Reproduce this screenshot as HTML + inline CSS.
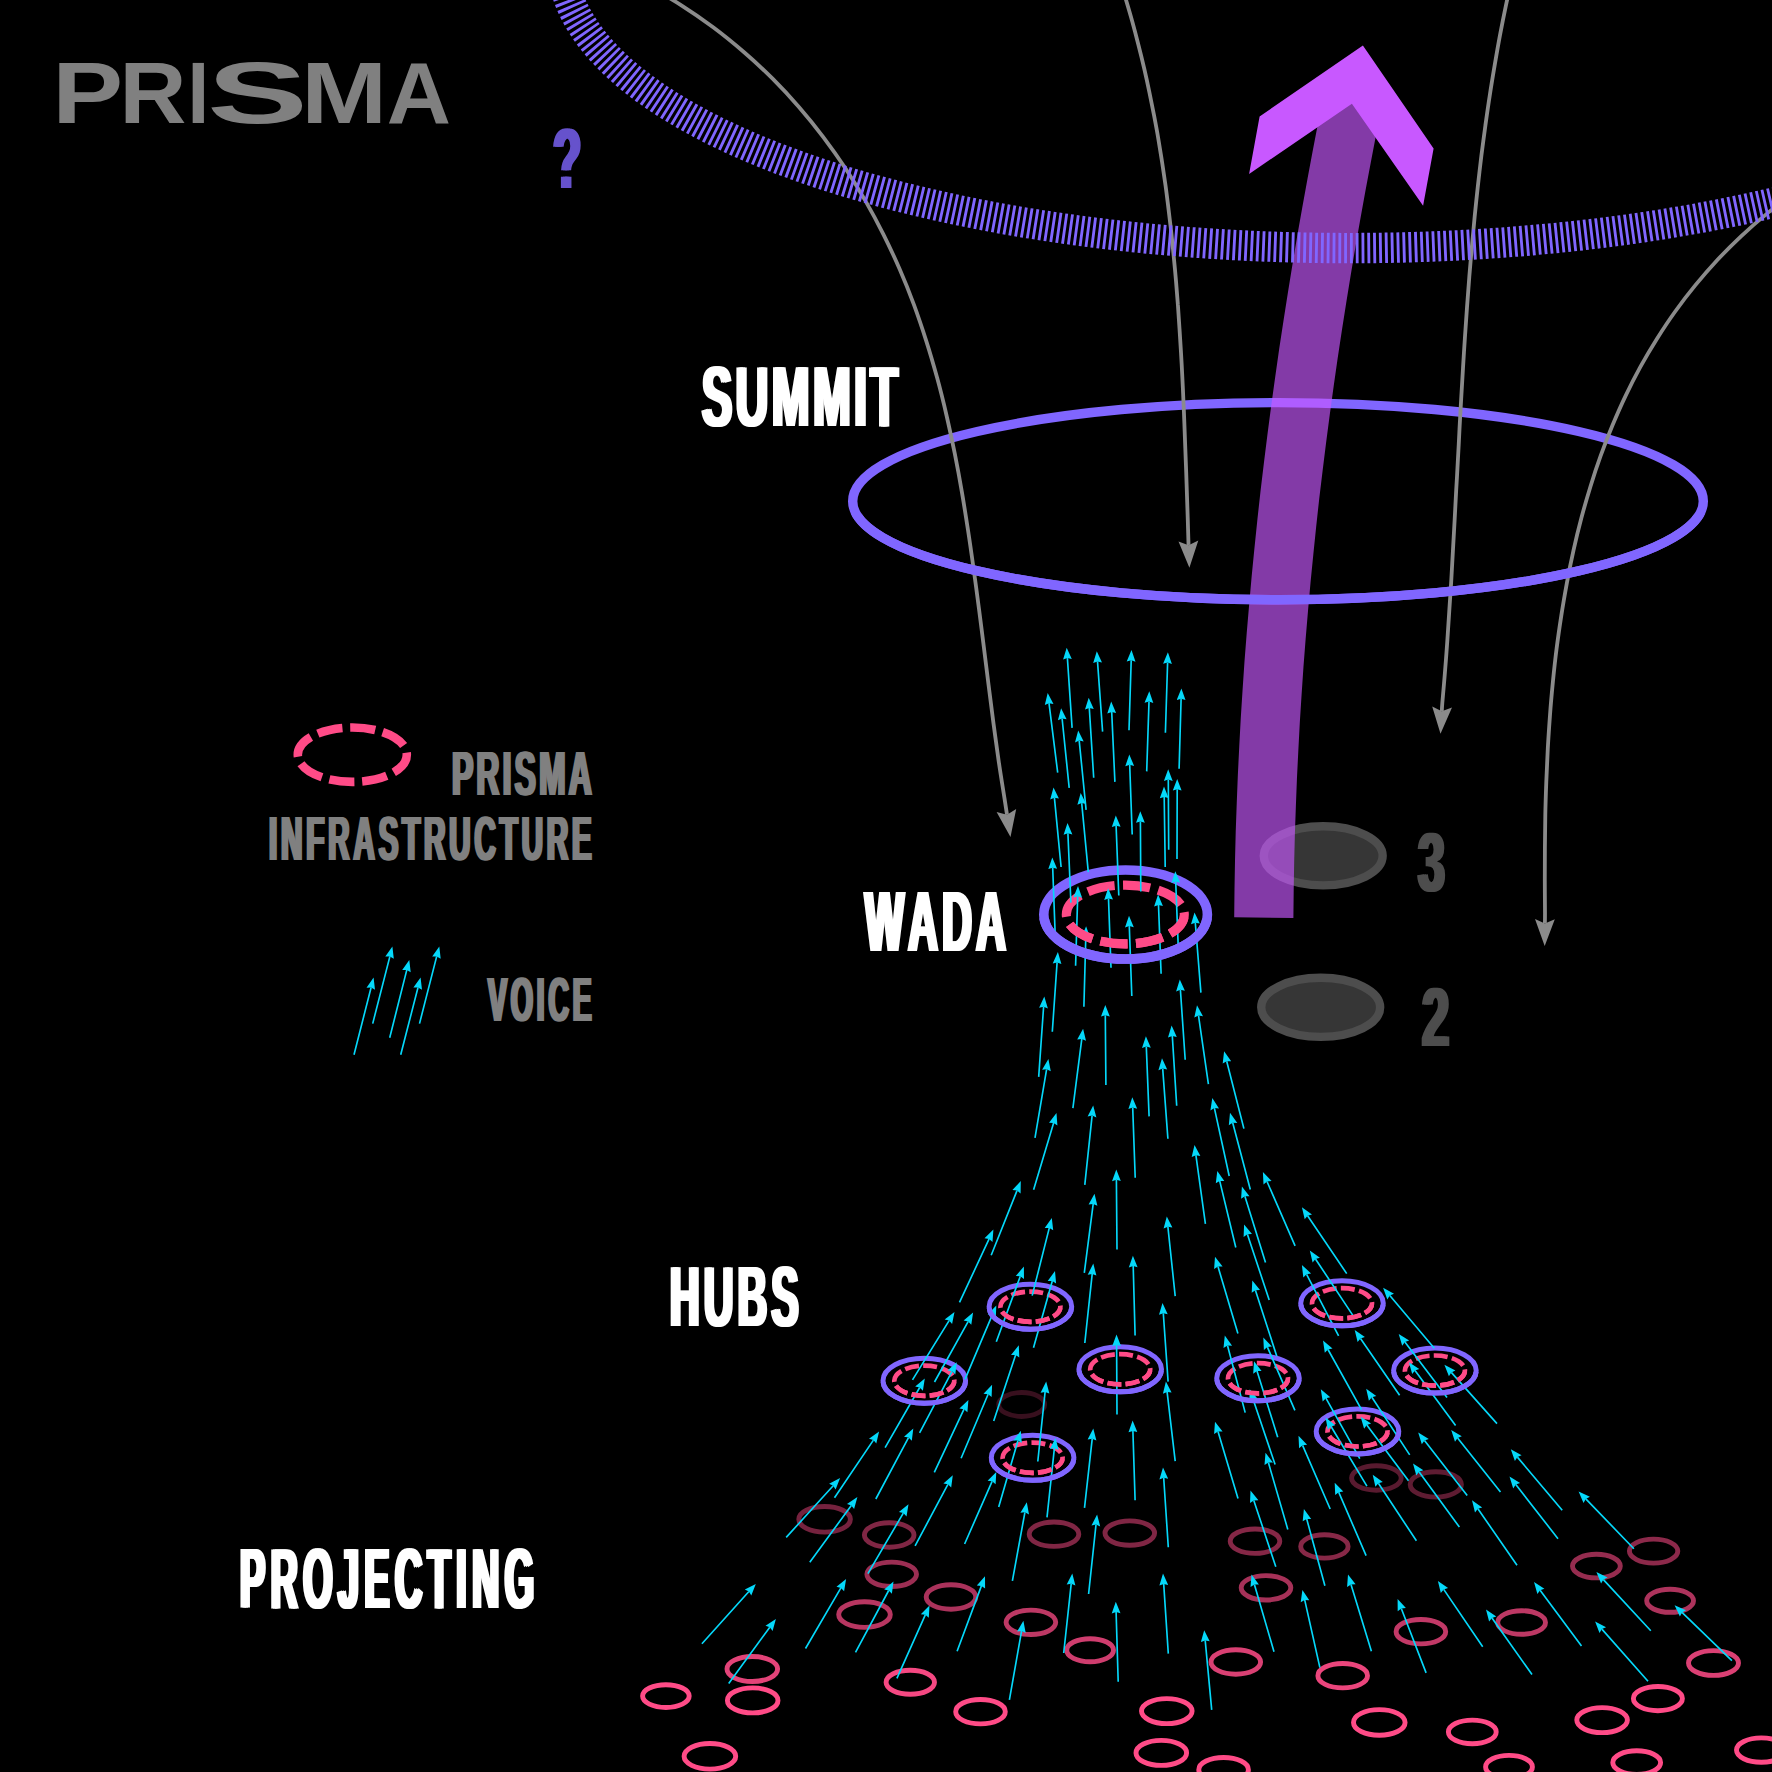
<!DOCTYPE html><html lang="en"><head><meta charset="utf-8"><title>PRISMA</title>
<style>
html,body{margin:0;padding:0;background:#000;}
body{width:1772px;height:1772px;position:relative;overflow:hidden;font-family:"Liberation Sans",sans-serif;}
svg{position:absolute;left:0;top:0;display:block}
.t{position:absolute;white-space:nowrap;font-weight:700;line-height:1;transform-origin:0 0;font-kerning:none;letter-spacing:0}
</style></head><body>
<svg width="1772" height="1772" viewBox="0 0 1772 1772">
<rect width="1772" height="1772" fill="#000"/>
<ellipse cx="1278" cy="501.2" rx="425.3" ry="98.6" fill="none" stroke="#8066ff" stroke-width="9.4"/>
<ellipse cx="1323.2" cy="855.8" rx="59.45" ry="29.55" fill="#363636" stroke="#4d4d4d" stroke-width="8.4"/>
<ellipse cx="1320.7" cy="1007.3" rx="59.45" ry="29.55" fill="#363636" stroke="#4d4d4d" stroke-width="8.4"/>
<path d="M1352.8 100L1347.2 128.2L1341.8 156.4L1336.5 184.6L1331.4 212.8L1326.4 241L1321.7 269.2L1317.1 297.4L1312.7 325.5L1308.4 353.7L1304.4 381.9L1300.5 410.1L1296.8 438.3L1293.3 466.5L1289.9 494.7L1286.8 522.9L1283.9 551.1L1281.1 579.3L1278.6 607.5L1276.2 635.7L1274 663.9L1272.1 692.1L1270.3 720.2L1268.8 748.4L1267.4 776.6L1266.3 804.8L1265.3 833L1264.6 861.2L1264.1 889.4L1263.8 917.6" fill="none" stroke="rgba(200,88,255,0.655)" stroke-width="59.2"/>
<polygon points="1362.9,45.4 1433.6,148.6 1423.1,205.7 1351.9,103.8 1249.1,173.9 1259.6,116.5" fill="#c858ff"/>
<g fill="none" stroke="#8b8b8b" stroke-width="3.8">
<path d="M645.4 -15.9C651.3 -12.5 669.2 -2.4 680.6 4.8C692 12 702.9 19.6 713.5 27.5C724.1 35.4 734.2 43.7 744.1 52.2C754 60.7 763.5 69.6 772.6 78.7C781.7 87.8 790.5 97.3 798.9 107C807.3 116.7 815.4 126.6 823.1 136.8C830.8 147 838.2 157.4 845.2 168C852.2 178.6 858.9 189.5 865.3 200.6C871.7 211.7 877.7 222.9 883.4 234.3C889.1 245.7 894.5 257.3 899.6 269C904.7 280.7 909.5 292.7 913.9 304.7C918.3 316.7 922.4 328.9 926.3 341.1C930.2 353.3 933.8 365.7 937.2 378.1C940.6 390.5 943.7 403.1 946.6 415.7C949.5 428.3 952.2 441 954.8 453.7C957.3 466.4 959.7 479.3 961.9 492.1C964.1 504.9 966.1 517.8 968.1 530.7C970.1 543.6 971.9 556.5 973.7 569.4C975.5 582.3 977.2 595.3 978.9 608.2C980.6 621.1 982.2 633.9 983.8 646.8C985.4 659.6 987 672.5 988.6 685.3C990.2 698.1 991.8 710.8 993.5 723.4C995.2 736 996.9 748.7 998.7 761.2C1000.5 773.7 1003.1 789.5 1004.5 798.4C1005.9 807.3 1006.6 812 1007 814.8"/>
<path d="M1118.4 -24.1C1119.6 -20.3 1123.4 -8.8 1125.7 -1.1C1128 6.6 1130.3 14.3 1132.4 22C1134.5 29.7 1136.5 37.5 1138.5 45.2C1140.5 53 1142.4 60.7 1144.2 68.5C1146 76.3 1147.7 84 1149.3 91.8C1150.9 99.6 1152.5 107.4 1154 115.2C1155.5 123 1157 130.8 1158.3 138.7C1159.6 146.5 1160.9 154.4 1162.1 162.3C1163.3 170.2 1164.5 178.1 1165.6 186C1166.7 193.9 1167.6 201.8 1168.6 209.7C1169.6 217.6 1170.5 225.5 1171.4 233.4C1172.3 241.3 1173 249.3 1173.8 257.2C1174.6 265.1 1175.3 273.1 1176 281C1176.7 288.9 1177.3 296.9 1177.9 304.9C1178.5 312.8 1179 320.7 1179.5 328.7C1180 336.7 1180.5 344.7 1181 352.7C1181.5 360.7 1181.9 368.6 1182.3 376.6C1182.7 384.6 1183.1 392.5 1183.4 400.5C1183.8 408.5 1184.1 416.4 1184.4 424.4C1184.7 432.4 1185 440.4 1185.3 448.4C1185.6 456.4 1185.9 464.3 1186.2 472.3C1186.5 480.3 1186.7 488.2 1187 496.2C1187.3 504.2 1187.5 512.1 1187.8 520.1C1188 528.1 1188.4 539.7 1188.5 543.9C1188.6 548.1 1188.5 545.1 1188.6 545.3"/>
<path d="M1512.5 -24.7C1511.4 -19.7 1508.1 -4.9 1506 5.1C1503.9 15.1 1501.9 25.1 1500 35.1C1498.1 45.1 1496.4 55.1 1494.7 65.1C1493 75.1 1491.3 85.2 1489.8 95.2C1488.2 105.2 1486.8 115.3 1485.4 125.4C1484 135.5 1482.7 145.5 1481.4 155.6C1480.2 165.7 1479 175.7 1477.9 185.8C1476.8 195.9 1475.7 206.1 1474.7 216.2C1473.7 226.3 1472.8 236.4 1471.9 246.5C1471 256.6 1470.1 266.8 1469.3 276.9C1468.5 287 1467.7 297.1 1467 307.3C1466.3 317.5 1465.6 327.7 1464.9 337.8C1464.2 347.9 1463.6 358.1 1463 368.2C1462.4 378.3 1461.8 388.5 1461.2 398.7C1460.6 408.9 1460 419 1459.5 429.2C1459 439.4 1458.5 449.5 1457.9 459.7C1457.4 469.9 1456.8 480 1456.2 490.2C1455.7 500.4 1455.1 510.5 1454.6 520.7C1454 530.9 1453.5 541.1 1452.9 551.2C1452.3 561.4 1451.8 571.5 1451.2 581.6C1450.6 591.8 1449.9 602 1449.2 612.1C1448.5 622.2 1447.9 632.4 1447.2 642.5C1446.5 652.6 1445.7 662.8 1444.9 672.9C1444.1 683 1442.8 696.8 1442.3 703.2C1441.8 709.6 1441.9 709.9 1441.8 711.2"/>
<path d="M1795.1 192.2C1790.4 195.8 1776 206.2 1767 213.6C1758 220.9 1749.3 228.5 1741 236.3C1732.7 244.1 1724.7 252.1 1717.1 260.3C1709.5 268.5 1702.2 276.9 1695.2 285.4C1688.2 293.9 1681.6 302.6 1675.2 311.5C1668.8 320.4 1662.8 329.5 1657 338.7C1651.2 347.9 1645.7 357.2 1640.5 366.7C1635.3 376.2 1630.4 385.8 1625.7 395.6C1621 405.4 1616.7 415.3 1612.5 425.3C1608.3 435.3 1604.4 445.5 1600.7 455.7C1597 465.9 1593.6 476.3 1590.4 486.7C1587.2 497.1 1584.1 507.7 1581.3 518.3C1578.5 528.9 1575.9 539.5 1573.5 550.3C1571.1 561 1568.9 571.9 1566.9 582.8C1564.9 593.7 1563 604.6 1561.3 615.6C1559.6 626.6 1558 637.6 1556.6 648.6C1555.2 659.6 1554 670.7 1552.9 681.8C1551.8 692.9 1550.8 704 1550 715.1C1549.2 726.2 1548.4 737.3 1547.8 748.4C1547.2 759.5 1546.7 770.6 1546.3 781.7C1545.9 792.8 1545.5 803.9 1545.3 814.9C1545.1 825.9 1545 836.9 1544.9 847.9C1544.8 858.9 1544.8 869.8 1544.8 880.6C1544.8 891.5 1545 905.8 1545 913C1545 920.2 1544.9 921.8 1544.9 923.5"/>
</g>
<g fill="#8b8b8b">
<polygon points="1010.5,837 996.6,812 1007,814.8 1016.2,809"/>
<polygon points="1189.4,567.8 1178.5,541.4 1188.6,545.3 1198.3,540.6"/>
<polygon points="1440.5,733.7 1432.2,706.4 1441.8,711.2 1452,707.5"/>
<polygon points="1544.7,946 1535,919.1 1544.9,923.5 1554.8,919.3"/>
</g>
<ellipse cx="1349" cy="-39.5" rx="787.1" ry="287.6" fill="none" stroke="#8066ff" stroke-width="30.4" stroke-dasharray="2.85 3.02"/>
<clipPath id="cs"><rect x="800" y="513.4" width="972" height="200"/></clipPath>
<g clip-path="url(#cs)"><ellipse cx="1278" cy="501.2" rx="425.3" ry="98.6" fill="none" stroke="#8066ff" stroke-width="9.4"/></g>
<g fill="none" stroke="#ff4b87" stroke-width="4.9">
<ellipse cx="824.6" cy="1519.3" rx="25.8" ry="12.8" opacity="0.46"/>
<ellipse cx="889.2" cy="1535" rx="24.8" ry="12.2" opacity="0.50"/>
<ellipse cx="891.7" cy="1574.3" rx="24.8" ry="12.2" opacity="0.61"/>
<ellipse cx="864.5" cy="1614.6" rx="25.8" ry="12.8" opacity="0.72"/>
<ellipse cx="951" cy="1597" rx="24.8" ry="12.2" opacity="0.67"/>
<ellipse cx="752.3" cy="1669" rx="25.3" ry="12.5" opacity="0.89"/>
<ellipse cx="665.9" cy="1696.1" rx="23.3" ry="11.4"/>
<ellipse cx="752.7" cy="1700.4" rx="25.3" ry="12.5"/>
<ellipse cx="910.3" cy="1682.2" rx="24.2" ry="12" opacity="0.96"/>
<ellipse cx="709.9" cy="1756.3" rx="25.8" ry="12.8"/>
<ellipse cx="1054" cy="1534.2" rx="24.8" ry="12.2" opacity="0.50"/>
<ellipse cx="1129.8" cy="1533.1" rx="24.8" ry="12.2" opacity="0.50"/>
<ellipse cx="1255" cy="1541.2" rx="24.8" ry="12.2" opacity="0.52"/>
<ellipse cx="1030.9" cy="1622.3" rx="24.8" ry="12.2" opacity="0.74"/>
<ellipse cx="1266" cy="1587.8" rx="24.8" ry="12.2" opacity="0.65"/>
<ellipse cx="1090.1" cy="1650.2" rx="23.4" ry="11.5" opacity="0.81"/>
<ellipse cx="1235.8" cy="1662" rx="24.8" ry="12.2" opacity="0.85"/>
<ellipse cx="980.5" cy="1711.7" rx="24.8" ry="12.2"/>
<ellipse cx="1166.8" cy="1711.1" rx="25.3" ry="12.5"/>
<ellipse cx="1161.3" cy="1752.9" rx="25.3" ry="12.5"/>
<ellipse cx="1223.6" cy="1769.7" rx="24.8" ry="12.2"/>
<ellipse cx="1376.4" cy="1478" rx="24.8" ry="12.2" opacity="0.35"/>
<ellipse cx="1435.8" cy="1484.4" rx="25.6" ry="12.7" opacity="0.37"/>
<ellipse cx="1324.4" cy="1546.4" rx="23.7" ry="11.7" opacity="0.53"/>
<ellipse cx="1420.9" cy="1631.7" rx="24.8" ry="12.2" opacity="0.76"/>
<ellipse cx="1521.6" cy="1622.5" rx="23.9" ry="11.8" opacity="0.74"/>
<ellipse cx="1342.7" cy="1675.7" rx="24.8" ry="12.2" opacity="0.92"/>
<ellipse cx="1379.3" cy="1722.4" rx="25.8" ry="12.8"/>
<ellipse cx="1472.3" cy="1731.9" rx="23.9" ry="11.8"/>
<ellipse cx="1509" cy="1766.9" rx="23.4" ry="11.5"/>
<ellipse cx="1653.6" cy="1551.1" rx="24.2" ry="12" opacity="0.55"/>
<ellipse cx="1596.4" cy="1566.1" rx="23.9" ry="11.8" opacity="0.59"/>
<ellipse cx="1670.1" cy="1600.8" rx="23.4" ry="11.5" opacity="0.68"/>
<ellipse cx="1713.5" cy="1663" rx="25" ry="12.4" opacity="0.86"/>
<ellipse cx="1657.9" cy="1698.6" rx="24.5" ry="12.1"/>
<ellipse cx="1602.1" cy="1720.1" rx="25.3" ry="12.5"/>
<ellipse cx="1761.3" cy="1750.1" rx="24.8" ry="12.2"/>
<ellipse cx="1636.7" cy="1762.6" rx="23.9" ry="11.8"/>
<ellipse cx="1021.7" cy="1404.5" rx="23" ry="12" stroke-width="4.8" opacity="0.22"/>
</g>
<ellipse cx="1030.4" cy="1306.7" rx="41.3" ry="22.5" fill="none" stroke="#8066ff" stroke-width="5"/><ellipse cx="1030.4" cy="1306.7" rx="30" ry="15.1" fill="none" stroke="#ff4b87" stroke-width="4.7" pathLength="8" stroke-dasharray="0.765 0.235" stroke-dashoffset="0.065"/>
<ellipse cx="924.3" cy="1380.7" rx="41.3" ry="22.5" fill="none" stroke="#8066ff" stroke-width="5"/><ellipse cx="924.3" cy="1380.7" rx="30" ry="15.1" fill="none" stroke="#ff4b87" stroke-width="4.7" pathLength="8" stroke-dasharray="0.765 0.235" stroke-dashoffset="0.065"/>
<ellipse cx="1120.2" cy="1369.3" rx="41.3" ry="22.5" fill="none" stroke="#8066ff" stroke-width="5"/><ellipse cx="1120.2" cy="1369.3" rx="30" ry="15.1" fill="none" stroke="#ff4b87" stroke-width="4.7" pathLength="8" stroke-dasharray="0.765 0.235" stroke-dashoffset="0.065"/>
<ellipse cx="1032.6" cy="1457.8" rx="41.3" ry="22.5" fill="none" stroke="#8066ff" stroke-width="5"/><ellipse cx="1032.6" cy="1457.8" rx="30" ry="15.1" fill="none" stroke="#ff4b87" stroke-width="4.7" pathLength="8" stroke-dasharray="0.765 0.235" stroke-dashoffset="0.065"/>
<ellipse cx="1342" cy="1303.3" rx="41.3" ry="22.5" fill="none" stroke="#8066ff" stroke-width="5"/><ellipse cx="1342" cy="1303.3" rx="30" ry="15.1" fill="none" stroke="#ff4b87" stroke-width="4.7" pathLength="8" stroke-dasharray="0.765 0.235" stroke-dashoffset="0.065"/>
<ellipse cx="1258" cy="1378.3" rx="41.3" ry="22.5" fill="none" stroke="#8066ff" stroke-width="5"/><ellipse cx="1258" cy="1378.3" rx="30" ry="15.1" fill="none" stroke="#ff4b87" stroke-width="4.7" pathLength="8" stroke-dasharray="0.765 0.235" stroke-dashoffset="0.065"/>
<ellipse cx="1434.9" cy="1370.6" rx="41.3" ry="22.5" fill="none" stroke="#8066ff" stroke-width="5"/><ellipse cx="1434.9" cy="1370.6" rx="30" ry="15.1" fill="none" stroke="#ff4b87" stroke-width="4.7" pathLength="8" stroke-dasharray="0.765 0.235" stroke-dashoffset="0.065"/>
<ellipse cx="1357.5" cy="1431.4" rx="41.3" ry="22.5" fill="none" stroke="#8066ff" stroke-width="5"/><ellipse cx="1357.5" cy="1431.4" rx="30" ry="15.1" fill="none" stroke="#ff4b87" stroke-width="4.7" pathLength="8" stroke-dasharray="0.765 0.235" stroke-dashoffset="0.065"/>
<ellipse cx="1125.6" cy="914.5" rx="81.8" ry="44.5" fill="none" stroke="#8066ff" stroke-width="9.6"/><ellipse cx="1125.3" cy="914.5" rx="59" ry="29.4" fill="none" stroke="#ff4b87" stroke-width="9.1" pathLength="8" stroke-dasharray="0.765 0.235" stroke-dashoffset="0.065"/>
<path d="M1072.1 727.9L1067.4 658.1M1102.6 731.6L1097.5 661.4M1129 730.2L1131.2 660.3M1165.4 732.8L1167.6 662.6M1057.7 772.7L1049 703.2M1069.2 787.8L1062.1 718.5M1093.7 777.8L1089.3 708M1114.9 781.9L1111.7 711.9M1146.7 771.4L1149 701.6M1179.1 768.8L1181.1 698.7M1086.1 809.8L1079.2 740.6M1132.2 834.5L1129.7 764.7M1168.7 849.8L1168.3 779.6M1177 858.9L1177.2 789.3M1165.2 867L1164.2 796.9M1061.1 867L1054.4 797.7M1088.3 872.1L1081.7 803.1M1070.9 902.6L1067.9 833.3M1118.8 895.5L1116.1 825.7M1140.8 891.6L1140.4 821.5M1055.3 937.6L1052.7 867.7M1178.4 950.8L1175.7 881.5M1075.6 965.7L1077.7 896.3M1111 967.8L1108.5 898.5M1161.1 973.7L1158.5 904.9M1131.8 996L1129.3 926.1M1200.9 992.6L1195.3 922.7M1083.9 1006.7L1085.8 936.6M1052.3 1031.7L1057.1 962.4M1038.7 1076.9L1043.6 1006.8M1105.9 1085L1105.3 1015.3M1185.2 1059.7L1180.4 989.8M1208.4 1084.2L1198.5 1015.5M1072.9 1108.2L1081.8 1038.9M1176.7 1105.7L1172.3 1035.9M1149.1 1116.4L1146.3 1046.6M1035 1137.9L1046.6 1069.3M1167.9 1138.7L1162.7 1068.6M1243.9 1128.6L1226.7 1061.2M1135.2 1177.7L1132.7 1107.5M1084.8 1184.9L1092.1 1115.6M1033.6 1189.8L1053.6 1122.9M1229.2 1176L1214.4 1108.1M1250.3 1189.5L1232.7 1122.8M991.2 1255.2L1017 1190.6M959.5 1302.4L989.1 1238.9M1032.2 1295.6L1049.3 1227.9M1084.3 1272.8L1093.2 1203.9M1135.1 1335.6L1133.2 1266.1M996.3 1341.8L1020.3 1276.2M1033.5 1347.8L1052.3 1281M1084.8 1343L1092.2 1273.9M912.5 1379.9L949.1 1320.6M934.5 1382L968.1 1321.6M965 1379.4L992.3 1314.9M1117 1414.6L1116.6 1344.9M993.7 1421.1L1015.6 1355M919.6 1432.9L952 1371.3M885.1 1447.7L919.7 1387.5M1037.8 1461.5L1045.1 1391.9M961.1 1458.3L988.1 1394.2M934.3 1472.4L964 1409.2M1295.1 1245.8L1267 1181.5M1346.7 1273.6L1307.6 1215.8M1175.2 1296.1L1167.9 1226.8M1269.2 1300L1247.4 1234.3M1352.7 1315.1L1315.5 1259M1338.6 1335.9L1306.6 1274.3M1237.9 1333.4L1218 1266.6M1276.8 1356.2L1255.4 1290.2M1434.3 1348.3L1389.8 1295.5M1168.1 1381.6L1163.3 1313.2M1245.2 1412.6L1227.5 1345.5M1294.9 1410.4L1267.4 1347.1M1361.5 1409.6L1328 1349.5M1399.6 1395.2L1360.5 1338.5M1447 1397.4L1404.9 1342.1M1277.7 1437.2L1257 1371.1M1455.6 1425.6L1415 1370.5M1175.2 1461.2L1167.1 1391.9M1359.8 1458.7L1325.9 1398.2M1409.7 1454.9L1371.9 1397.3M1275.1 1464.6L1253 1399M1366.9 1486.1L1330.9 1426.3M1408.5 1480.8L1366.8 1425.1M786.2 1537.4L833.2 1485.7M809.8 1562.2L851.3 1505.5M867.9 1573.6L903.3 1513.1M701.9 1643.8L748.9 1591.5M805.5 1648.5L840.9 1587.9M855.5 1652.3L888.7 1590.5M728.7 1683.6L769.8 1627.2M896.9 1678.3L925.3 1614.8M915.1 1545.9L947.9 1484.3M964.6 1544L992.1 1481.3M1012.4 1580.9L1024.9 1512.3M1088.6 1594L1096 1524.6M1168.3 1547.2L1163.7 1477.8M957.1 1651.2L981.4 1585.9M1063.7 1653L1071.2 1583.8M1168.3 1653.6L1163.7 1583.9M1118.2 1681.7L1116.1 1612M1009.4 1699.9L1021.6 1630.9M1211.7 1709.8L1205.2 1640.4M1287.8 1529.4L1268.4 1462.6M1275.8 1566.8L1253.8 1500.4M1366.1 1555.6L1338.7 1492.2M1416.4 1540.8L1378.4 1483.3M1459.4 1527.1L1419 1471.7M1324.9 1585.8L1306.7 1518.9M1517 1565.2L1477.9 1508.8M1274 1651.7L1254.4 1584.4M1319.9 1667.6L1304.7 1599.9M1371.4 1651.2L1351 1584.4M1426.1 1672.9L1401.3 1608.5M1482.7 1646.7L1443.7 1589.4M1532 1674.6L1492 1618M1633.9 1548.7L1585.8 1498.9M1650.8 1630.7L1603.4 1579.6M1648 1681.3L1601.9 1629.1M1731.9 1660.7L1682 1612.4M1205.4 1223.8L1195.9 1155.2M1117 1249.6L1116.4 1179.8M1235.8 1247.5L1219.7 1180.9M1265.5 1262.6L1244.9 1196.3M834.5 1497.7L873.4 1440.1M875.8 1499L908.5 1437.6M998.7 1507.1L1018 1440.6M1047 1517.4L1054.4 1448.2M1084.5 1507.8L1092.2 1438.8M1135.1 1500.3L1132.9 1430.9M1497 1423.6L1451.3 1372.4M1238 1498.5L1218 1431.6M1330.2 1509L1302.6 1445.3M1467.2 1495.5L1424.5 1440.5M1500.5 1492.1L1457.6 1437.9M1562.2 1510.3L1517.4 1457.1M1558 1538.7L1515.8 1484.6M1581.5 1646.1L1540.1 1590.3" fill="none" stroke="#05d8fa" stroke-width="1.65"/><path d="M1066.7 647.8L1071.8 659.1L1067.4 658.1L1063.1 659.6ZM1096.8 651.2L1102 662.4L1097.5 661.4L1093.2 663ZM1131.5 650L1135.5 661.7L1131.2 660.3L1126.7 661.4ZM1167.9 652.3L1171.9 664.1L1167.6 662.6L1163.1 663.8ZM1047.7 693L1053.5 703.9L1049 703.2L1044.8 705ZM1061.1 708.2L1066.6 719.3L1062.1 718.5L1057.9 720.2ZM1088.7 697.7L1093.8 709L1089.3 708L1085 709.6ZM1111.2 701.6L1116.1 713L1111.7 711.9L1107.3 713.4ZM1149.3 691.3L1153.3 703L1149 701.6L1144.5 702.7ZM1181.4 688.4L1185.5 700.1L1181.1 698.7L1176.7 699.9ZM1078.2 730.4L1083.7 741.5L1079.2 740.6L1075 742.4ZM1129.3 754.4L1134.1 765.9L1129.7 764.7L1125.3 766.2ZM1168.2 769.3L1172.7 780.9L1168.3 779.6L1163.9 781ZM1177.2 779L1181.6 790.6L1177.2 789.3L1172.8 790.6ZM1164 786.6L1168.6 798.1L1164.2 796.9L1159.8 798.3ZM1053.5 787.4L1058.9 798.6L1054.4 797.7L1050.2 799.4ZM1080.7 792.9L1086.2 804L1081.7 803.1L1077.4 804.8ZM1067.5 823L1072.4 834.4L1067.9 833.3L1063.6 834.8ZM1115.8 815.4L1120.6 826.8L1116.1 825.7L1111.8 827.1ZM1140.3 811.2L1144.8 822.7L1140.4 821.5L1136 822.8ZM1052.3 857.4L1057.1 868.8L1052.7 867.7L1048.3 869.1ZM1175.3 871.3L1180.2 882.7L1175.7 881.5L1171.4 883ZM1078 886L1082.1 897.7L1077.7 896.3L1073.3 897.4ZM1108.1 888.2L1113 899.6L1108.5 898.5L1104.2 899.9ZM1158.1 894.6L1162.9 906L1158.5 904.9L1154.1 906.4ZM1129 915.8L1133.8 927.2L1129.3 926.1L1125 927.5ZM1194.5 912.4L1199.8 923.6L1195.3 922.7L1191 924.3ZM1086.1 926.3L1090.2 938L1085.8 936.6L1081.4 937.8ZM1057.9 952.1L1061.4 964L1057.1 962.4L1052.7 963.4ZM1044.3 996.5L1047.9 1008.4L1043.6 1006.8L1039.1 1007.8ZM1105.3 1005L1109.8 1016.5L1105.3 1015.3L1101 1016.6ZM1179.8 979.6L1184.9 990.8L1180.4 989.8L1176.1 991.4ZM1197 1005.3L1203 1016.2L1198.5 1015.5L1194.3 1017.4ZM1083.1 1028.7L1086 1040.7L1081.8 1038.9L1077.2 1039.6ZM1171.6 1025.6L1176.8 1036.9L1172.3 1035.9L1168 1037.5ZM1145.9 1036.3L1150.8 1047.7L1146.3 1046.6L1142 1048.1ZM1048.4 1059.1L1050.8 1071.3L1046.6 1069.3L1042.1 1069.8ZM1162 1058.3L1167.2 1069.5L1162.7 1068.6L1158.4 1070.2ZM1224.1 1051.2L1231.2 1061.3L1226.7 1061.2L1222.7 1063.5ZM1132.3 1097.2L1137.2 1108.7L1132.7 1107.5L1128.4 1109ZM1093.2 1105.4L1096.4 1117.4L1092.1 1115.6L1087.6 1116.4ZM1056.5 1113L1057.4 1125.4L1053.6 1122.9L1049 1122.8ZM1212.3 1098.1L1219 1108.5L1214.4 1108.1L1210.4 1110.4ZM1230 1112.8L1237.3 1122.9L1232.7 1122.8L1228.8 1125.2ZM1020.8 1181L1020.6 1193.4L1017 1190.6L1012.4 1190.1ZM993.4 1229.6L992.5 1242L989.1 1238.9L984.5 1238.3ZM1051.8 1217.9L1053.2 1230.2L1049.3 1227.9L1044.7 1228.1ZM1094.5 1193.7L1097.4 1205.8L1093.2 1203.9L1088.6 1204.6ZM1132.9 1255.8L1137.6 1267.3L1133.2 1266.1L1128.8 1267.6ZM1023.9 1266.5L1024 1278.9L1020.3 1276.2L1015.8 1275.9ZM1055 1271.1L1056.1 1283.4L1052.3 1281L1047.7 1281.1ZM1093.3 1263.6L1096.4 1275.6L1092.2 1273.9L1087.7 1274.7ZM954.5 1311.9L952.1 1324.1L949.1 1320.6L944.6 1319.4ZM973.1 1312.6L971.3 1324.8L968.1 1321.6L963.6 1320.6ZM996.3 1305.4L995.8 1317.8L992.3 1314.9L987.7 1314.4ZM1116.5 1334.6L1121 1346.1L1116.6 1344.9L1112.2 1346.2ZM1018.8 1345.2L1019.3 1357.6L1015.6 1355L1011 1354.9ZM956.8 1362.2L955.3 1374.5L952 1371.3L947.5 1370.4ZM924.8 1378.6L922.9 1390.8L919.7 1387.5L915.2 1386.4ZM1046.2 1381.6L1049.4 1393.6L1045.1 1391.9L1040.6 1392.7ZM992.1 1384.7L991.6 1397.1L988.1 1394.2L983.5 1393.7ZM968.4 1399.9L967.4 1412.3L964 1409.2L959.4 1408.5ZM1262.9 1172L1271.6 1180.9L1267 1181.5L1263.5 1184.4ZM1301.9 1207.2L1312 1214.4L1307.6 1215.8L1304.7 1219.3ZM1166.8 1216.6L1172.4 1227.6L1167.9 1226.8L1163.6 1228.6ZM1244.1 1224.5L1252 1234.1L1247.4 1234.3L1243.6 1236.9ZM1309.8 1250.4L1319.9 1257.7L1315.5 1259L1312.6 1262.5ZM1301.9 1265.1L1311.1 1273.4L1306.6 1274.3L1303.3 1277.5ZM1215 1256.7L1222.6 1266.5L1218 1266.6L1214.1 1269.1ZM1252.3 1280.4L1260 1290.1L1255.4 1290.2L1251.7 1292.8ZM1383.1 1287.7L1394 1293.7L1389.8 1295.5L1387.3 1299.4ZM1162.5 1302.9L1167.7 1314.2L1163.3 1313.2L1159 1314.8ZM1224.8 1335.6L1232.1 1345.7L1227.5 1345.5L1223.5 1347.9ZM1263.3 1337.6L1271.9 1346.5L1267.4 1347.1L1263.9 1350ZM1323 1340.5L1332.5 1348.5L1328 1349.5L1324.8 1352.8ZM1354.7 1330L1364.9 1337L1360.5 1338.5L1357.6 1342ZM1398.7 1333.9L1409.2 1340.5L1404.9 1342.1L1402.2 1345.8ZM1254 1361.3L1261.6 1371.1L1257 1371.1L1253.2 1373.7ZM1408.9 1362.2L1419.3 1368.9L1415 1370.5L1412.2 1374.1ZM1165.9 1381.6L1171.6 1392.6L1167.1 1391.9L1162.9 1393.7ZM1320.8 1389.2L1330.3 1397.2L1325.9 1398.2L1322.7 1401.5ZM1366.2 1388.7L1376.3 1396L1371.9 1397.3L1368.9 1400.8ZM1249.7 1389.2L1257.6 1398.8L1253 1399L1249.3 1401.6ZM1325.6 1417.5L1335.3 1425.2L1330.9 1426.3L1327.8 1429.7ZM1360.6 1416.8L1371.1 1423.5L1366.8 1425.1L1364.1 1428.8ZM840.1 1478L835.6 1489.6L833.2 1485.7L829.1 1483.7ZM857.4 1497.1L854.1 1509.1L851.3 1505.5L847 1503.9ZM908.5 1504.3L906.5 1516.5L903.3 1513.1L898.9 1512ZM755.8 1583.9L751.3 1595.5L748.9 1591.5L744.8 1589.6ZM846.1 1579L844.1 1591.3L840.9 1587.9L836.5 1586.8ZM893.5 1581.5L891.9 1593.8L888.7 1590.5L884.2 1589.6ZM775.9 1618.9L772.6 1630.9L769.8 1627.2L765.5 1625.7ZM929.5 1605.4L928.8 1617.8L925.3 1614.8L920.8 1614.2ZM952.8 1475.2L951.2 1487.5L947.9 1484.3L943.4 1483.4ZM996.3 1471.9L995.6 1484.2L992.1 1481.3L987.6 1480.7ZM1026.8 1502.2L1029 1514.4L1024.9 1512.3L1020.4 1512.8ZM1097.1 1514.4L1100.2 1526.4L1096 1524.6L1091.5 1525.5ZM1163 1467.5L1168.2 1478.8L1163.7 1477.8L1159.4 1479.4ZM985 1576.2L985.1 1588.6L981.4 1585.9L976.8 1585.5ZM1072.3 1573.6L1075.4 1585.6L1071.2 1583.8L1066.7 1584.6ZM1163 1573.6L1168.2 1584.9L1163.7 1583.9L1159.4 1585.4ZM1115.8 1601.7L1120.5 1613.2L1116.1 1612L1111.7 1613.4ZM1023.4 1620.8L1025.7 1633L1021.6 1630.9L1017.1 1631.5ZM1204.2 1630.2L1209.7 1641.3L1205.2 1640.4L1200.9 1642.1ZM1265.5 1452.7L1273 1462.6L1268.4 1462.6L1264.5 1465.1ZM1250.5 1490.6L1258.4 1500.2L1253.8 1500.4L1250 1503ZM1334.7 1482.7L1343.3 1491.6L1338.7 1492.2L1335.2 1495.1ZM1372.7 1474.7L1382.8 1481.9L1378.4 1483.3L1375.4 1486.8ZM1413 1463.4L1423.4 1470.2L1419 1471.7L1416.3 1475.4ZM1303.9 1508.9L1311.2 1519L1306.7 1518.9L1302.7 1521.3ZM1472 1500.3L1482.2 1507.4L1477.9 1508.8L1475 1512.4ZM1251.5 1574.5L1258.9 1584.4L1254.4 1584.4L1250.5 1586.9ZM1302.4 1589.9L1309.3 1600.2L1304.7 1599.9L1300.7 1602.2ZM1348 1574.5L1355.6 1584.3L1351 1584.4L1347.1 1586.9ZM1397.6 1598.9L1405.9 1608.1L1401.3 1608.5L1397.7 1611.3ZM1437.9 1580.9L1448.1 1588L1443.7 1589.4L1440.8 1593ZM1486 1609.6L1496.3 1616.5L1492 1618L1489.1 1621.6ZM1578.6 1491.5L1589.9 1496.8L1585.8 1498.9L1583.5 1502.9ZM1596.4 1572.1L1607.6 1577.6L1603.4 1579.6L1601.1 1583.6ZM1595.1 1621.4L1606.1 1627.2L1601.9 1629.1L1599.5 1633ZM1674.6 1605.3L1686 1610.2L1682 1612.4L1679.9 1616.5ZM1194.5 1145L1200.4 1155.9L1195.9 1155.2L1191.7 1157.1ZM1116.3 1169.5L1120.8 1181.1L1116.4 1179.8L1112 1181.2ZM1217.3 1170.9L1224.3 1181.1L1219.7 1180.9L1215.8 1183.2ZM1241.9 1186.5L1249.5 1196.2L1244.9 1196.3L1241.1 1198.8ZM879.1 1431.6L876.3 1443.6L873.4 1440.1L869 1438.7ZM913.3 1428.5L911.8 1440.8L908.5 1437.6L904 1436.7ZM1020.8 1430.7L1021.8 1443.1L1018 1440.6L1013.4 1440.6ZM1055.5 1438L1058.7 1450L1054.4 1448.2L1049.9 1449.1ZM1093.3 1428.5L1096.4 1440.5L1092.2 1438.8L1087.6 1439.6ZM1132.6 1420.6L1137.3 1432L1132.9 1430.9L1128.5 1432.3ZM1444.4 1364.7L1455.4 1370.4L1451.3 1372.4L1448.9 1376.3ZM1215 1421.7L1222.6 1431.6L1218 1431.6L1214.1 1434.1ZM1298.5 1435.8L1307.1 1444.7L1302.6 1445.3L1299.1 1448.2ZM1418.2 1432.4L1428.8 1438.9L1424.5 1440.5L1421.8 1444.3ZM1451.2 1429.9L1461.8 1436.2L1457.6 1437.9L1455 1441.7ZM1510.8 1449.2L1521.6 1455.2L1517.4 1457.1L1514.9 1460.9ZM1509.5 1476.5L1520.1 1482.9L1515.8 1484.6L1513.2 1488.4ZM1534 1582L1544.4 1588.7L1540.1 1590.3L1537.4 1593.9Z" fill="#05d8fa"/>
<path d="M354 1054.7L371.1 987.5M372.7 1023.6L389.9 956.4M389.7 1037.8L406.8 969.9M400.7 1054.7L418 987.5M419.5 1023.6L436.7 956.4" fill="none" stroke="#05d8fa" stroke-width="1.65"/><path d="M373.6 977.5L375 989.8L371.1 987.5L366.5 987.7ZM392.4 946.4L393.8 958.7L389.9 956.4L385.3 956.6ZM409.3 959.9L410.7 972.2L406.8 969.9L402.2 970.1ZM420.6 977.5L422 989.8L418 987.5L413.4 987.6ZM439.3 946.4L440.7 958.7L436.7 956.4L432.2 956.5Z" fill="#05d8fa"/>
<clipPath id="c0"><rect x="980.4" y="1308.2" width="100" height="30"/></clipPath>
<g clip-path="url(#c0)"><ellipse cx="1030.4" cy="1306.7" rx="41.3" ry="22.5" fill="none" stroke="#8066ff" stroke-width="5"/><ellipse cx="1030.4" cy="1306.7" rx="30" ry="15.1" fill="none" stroke="#ff4b87" stroke-width="4.7" pathLength="8" stroke-dasharray="0.765 0.235" stroke-dashoffset="0.065"/></g>
<clipPath id="c1"><rect x="874.3" y="1382.2" width="100" height="30"/></clipPath>
<g clip-path="url(#c1)"><ellipse cx="924.3" cy="1380.7" rx="41.3" ry="22.5" fill="none" stroke="#8066ff" stroke-width="5"/><ellipse cx="924.3" cy="1380.7" rx="30" ry="15.1" fill="none" stroke="#ff4b87" stroke-width="4.7" pathLength="8" stroke-dasharray="0.765 0.235" stroke-dashoffset="0.065"/></g>
<clipPath id="c2"><rect x="1070.2" y="1370.8" width="100" height="30"/></clipPath>
<g clip-path="url(#c2)"><ellipse cx="1120.2" cy="1369.3" rx="41.3" ry="22.5" fill="none" stroke="#8066ff" stroke-width="5"/><ellipse cx="1120.2" cy="1369.3" rx="30" ry="15.1" fill="none" stroke="#ff4b87" stroke-width="4.7" pathLength="8" stroke-dasharray="0.765 0.235" stroke-dashoffset="0.065"/></g>
<clipPath id="c3"><rect x="982.6" y="1459.3" width="100" height="30"/></clipPath>
<g clip-path="url(#c3)"><ellipse cx="1032.6" cy="1457.8" rx="41.3" ry="22.5" fill="none" stroke="#8066ff" stroke-width="5"/><ellipse cx="1032.6" cy="1457.8" rx="30" ry="15.1" fill="none" stroke="#ff4b87" stroke-width="4.7" pathLength="8" stroke-dasharray="0.765 0.235" stroke-dashoffset="0.065"/></g>
<clipPath id="c4"><rect x="1292" y="1304.8" width="100" height="30"/></clipPath>
<g clip-path="url(#c4)"><ellipse cx="1342" cy="1303.3" rx="41.3" ry="22.5" fill="none" stroke="#8066ff" stroke-width="5"/><ellipse cx="1342" cy="1303.3" rx="30" ry="15.1" fill="none" stroke="#ff4b87" stroke-width="4.7" pathLength="8" stroke-dasharray="0.765 0.235" stroke-dashoffset="0.065"/></g>
<clipPath id="c5"><rect x="1208" y="1379.8" width="100" height="30"/></clipPath>
<g clip-path="url(#c5)"><ellipse cx="1258" cy="1378.3" rx="41.3" ry="22.5" fill="none" stroke="#8066ff" stroke-width="5"/><ellipse cx="1258" cy="1378.3" rx="30" ry="15.1" fill="none" stroke="#ff4b87" stroke-width="4.7" pathLength="8" stroke-dasharray="0.765 0.235" stroke-dashoffset="0.065"/></g>
<clipPath id="c6"><rect x="1384.9" y="1372.1" width="100" height="30"/></clipPath>
<g clip-path="url(#c6)"><ellipse cx="1434.9" cy="1370.6" rx="41.3" ry="22.5" fill="none" stroke="#8066ff" stroke-width="5"/><ellipse cx="1434.9" cy="1370.6" rx="30" ry="15.1" fill="none" stroke="#ff4b87" stroke-width="4.7" pathLength="8" stroke-dasharray="0.765 0.235" stroke-dashoffset="0.065"/></g>
<clipPath id="c7"><rect x="1307.5" y="1432.9" width="100" height="30"/></clipPath>
<g clip-path="url(#c7)"><ellipse cx="1357.5" cy="1431.4" rx="41.3" ry="22.5" fill="none" stroke="#8066ff" stroke-width="5"/><ellipse cx="1357.5" cy="1431.4" rx="30" ry="15.1" fill="none" stroke="#ff4b87" stroke-width="4.7" pathLength="8" stroke-dasharray="0.765 0.235" stroke-dashoffset="0.065"/></g>
<clipPath id="c8"><rect x="1030.6" y="918.5" width="190" height="55"/></clipPath>
<g clip-path="url(#c8)"><ellipse cx="1125.6" cy="914.5" rx="81.8" ry="44.5" fill="none" stroke="#8066ff" stroke-width="9.6"/><ellipse cx="1125.3" cy="914.5" rx="59" ry="29.4" fill="none" stroke="#ff4b87" stroke-width="9.1" pathLength="8" stroke-dasharray="0.765 0.235" stroke-dashoffset="0.065"/></g>
<ellipse cx="352.3" cy="754.7" rx="54.5" ry="27.2" fill="none" stroke="#ff4b87" stroke-width="8.6" pathLength="8" stroke-dasharray="0.765 0.235" stroke-dashoffset="0.065"/>
<text y="123.3" font-family="Liberation Sans, sans-serif" font-weight="700" font-size="87.2" fill="#808080"><tspan x="52.3" textLength="70.8" lengthAdjust="spacingAndGlyphs">P</tspan><tspan x="119.5" textLength="66.9" lengthAdjust="spacingAndGlyphs">R</tspan><tspan x="187.5" textLength="21.6" lengthAdjust="spacingAndGlyphs">I</tspan><tspan x="206.9" textLength="101.0" lengthAdjust="spacingAndGlyphs">S</tspan><tspan x="301.3" textLength="85.8" lengthAdjust="spacingAndGlyphs">M</tspan><tspan x="386.7" textLength="64.2" lengthAdjust="spacingAndGlyphs">A</tspan></text>
</svg>
<div class="t" id="t0" style="left:702.30px;top:354.62px;font-size:84.45px;color:#fff;transform:scaleX(0.5339);letter-spacing:6.81px;text-shadow:3.56px 0 0 #fff,-3.56px 0 0 #fff;">SUMMIT</div>
<div class="t" id="t1" style="left:865.16px;top:879.57px;font-size:84.74px;color:#fff;transform:scaleX(0.4864);letter-spacing:8.73px;text-shadow:3.91px 0 0 #fff,-3.91px 0 0 #fff;">WADA</div>
<div class="t" id="t2" style="left:669.77px;top:1253.62px;font-size:85.03px;color:#fff;transform:scaleX(0.4801);letter-spacing:8.99px;text-shadow:3.96px 0 0 #fff,-3.96px 0 0 #fff;">HUBS</div>
<div class="t" id="t3" style="left:239.98px;top:1537.19px;font-size:84.59px;color:#fff;transform:scaleX(0.4450);letter-spacing:12.32px;text-shadow:4.27px 0 0 #fff,-4.27px 0 0 #fff;">PROJECTING</div>
<div class="t" id="t4" style="left:451.88px;top:741.82px;font-size:62.94px;color:#808080;transform:scaleX(0.5044);letter-spacing:6.42px;text-shadow:2.78px 0 0 #808080,-2.78px 0 0 #808080;">PRISMA</div>
<div class="t" id="t5" style="left:268.71px;top:807.20px;font-size:63.08px;color:#808080;transform:scaleX(0.4705);letter-spacing:8.02px;text-shadow:2.98px 0 0 #808080,-2.98px 0 0 #808080;">INFRASTRUCTURE</div>
<div class="t" id="t6" style="left:487.71px;top:968.36px;font-size:63.37px;color:#808080;transform:scaleX(0.4500);letter-spacing:8.31px;text-shadow:3.11px 0 0 #808080,-3.11px 0 0 #808080;">VOICE</div>
<div class="t" id="t7" style="left:552.77px;top:117.39px;font-size:84.59px;color:#6652cc;transform:scaleX(0.5476);text-shadow:3.47px 0 0 #6652cc,-3.47px 0 0 #6652cc;">?</div>
<div class="t" id="t8" style="left:1418.19px;top:821.01px;font-size:83.87px;color:#4d4d4d;transform:scaleX(0.5757);text-shadow:3.30px 0 0 #4d4d4d,-3.30px 0 0 #4d4d4d;">3</div>
<div class="t" id="t9" style="left:1422.30px;top:975.85px;font-size:82.99px;color:#4d4d4d;transform:scaleX(0.5906);text-shadow:3.22px 0 0 #4d4d4d,-3.22px 0 0 #4d4d4d;">2</div>
</body></html>
